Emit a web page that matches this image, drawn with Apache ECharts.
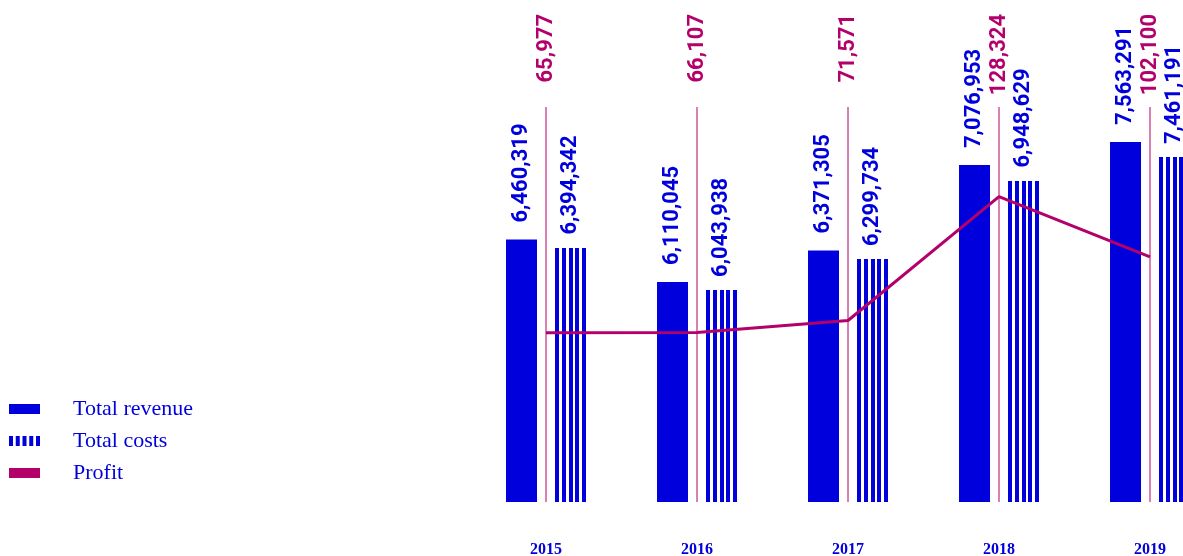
<!DOCTYPE html>
<html>
<head>
<meta charset="utf-8">
<script src="https://cdn.jsdelivr.net/npm/echarts@6/dist/echarts.min.js"></script>
<style>
  html, body { margin: 0; padding: 0; background: #ffffff; }
  #chart { width: 1183px; height: 556px; }
</style>
</head>
<body>
<div id="chart"></div>
<script>
// ---- data ----
const years = ['2015', '2016', '2017', '2018', '2019'];
// printed values
const totalRevenue = [6460319, 6110045, 6371305, 7076953, 7563291];
const totalCosts = [6394342, 6043938, 6299734, 6948629, 7461191];
const profit = [65977, 66107, 71571, 128324, 102100];
// bar heights as drawn in the reference (the 2019 bars are drawn shorter than their printed values)
const revenueBarHeights = [6460319, 6110045, 6371305, 7076953, 7267000];
const costBarHeights = [6394342, 6043938, 6299734, 6948629, 7143000];
// the profit line as drawn (2019 point sits slightly lower than its printed value)
const profitLine = [65977, 66107, 71571, 128324, 100700];

// ---- style ----
const BLUE = '#0000dc';
const MAGENTA = '#b3006b';
const Y_MIN = 4291800, Y_MAX = 7556300;
const P_MIN = -11640, P_MAX = 169440;
const valueFont = 'bold 22px Roboto';
const fmt = v => v.toLocaleString('en-US');

const chart = echarts.init(document.getElementById('chart'), null, { renderer: 'canvas' });

chart.setOption({
  animation: false,
  backgroundColor: '#ffffff',
  grid: { left: 470.5, width: 755, top: 107, bottom: 54, outerBoundsMode: 'none', containLabel: false },
  legend: {
    orient: 'vertical',
    left: 9,
    top: 398,
    padding: 0,
    itemWidth: 31,
    itemHeight: 10,
    itemGap: 10,
    selectedMode: false,
    textStyle: {
      color: BLUE,
      fontFamily: 'Liberation Serif',
      fontSize: 22,
      lineHeight: 22,
      padding: [0, 0, 0, 28]
    },
    data: [
      { name: 'Total revenue', icon: 'rect' },
      { name: 'Total costs', icon: 'path://M0,0h4v10h-4z M6.75,0h4v10h-4z M13.5,0h4v10h-4z M20.25,0h4v10h-4z M27,0h4v10h-4z' },
      { name: 'Profit', icon: 'rect' }
    ]
  },
  xAxis: {
    type: 'category',
    data: years,
    axisLine: { show: false },
    axisTick: { show: false },
    axisLabel: {
      color: BLUE,
      fontFamily: 'Liberation Serif',
      fontWeight: 'bold',
      fontSize: 16,
      margin: 40
    }
  },
  yAxis: [
    { type: 'value', min: Y_MIN, max: Y_MAX, show: false, splitLine: { show: false } },
    { type: 'value', min: P_MIN, max: P_MAX, show: false, splitLine: { show: false } }
  ],
  series: [
    {
      name: 'Profit guides',
      type: 'custom',
      yAxisIndex: 0,
      silent: true,
      z: 1,
      data: profit.map((v, i) => [i, v]),
      renderItem: function (params, api) {
        const i = api.value(0);
        const top = api.coord([i, Y_MAX]);
        const base = api.coord([i, Y_MIN]);
        return {
          type: 'group',
          children: [
            {
              type: 'line',
              shape: { x1: top[0], y1: top[1], x2: base[0], y2: base[1] },
              style: { stroke: MAGENTA, lineWidth: 1 }
            },
            {
              type: 'text',
              x: top[0],
              y: top[1] - 93,
              rotation: Math.PI / 2,
              style: {
                text: fmt(api.value(1)),
                font: valueFont,
                fill: MAGENTA,
                align: 'right',
                verticalAlign: 'middle'
              }
            }
          ]
        };
      }
    },
    {
      name: 'Total revenue',
      type: 'bar',
      barWidth: 31,
      barGap: '58%',
      z: 2,
      itemStyle: { color: BLUE },
      data: revenueBarHeights.map((v, i) => ({
        value: v,
        label: { formatter: fmt(totalRevenue[i]) }
      })),
      label: {
        show: true,
        position: 'top',
        rotate: 90,
        align: 'left',
        verticalAlign: 'middle',
        distance: 17,
        color: BLUE,
        fontFamily: 'Roboto',
        fontWeight: 'bold',
        fontSize: 22
      }
    },
    {
      name: 'Total costs placeholder',
      type: 'bar',
      barWidth: 31,
      barGap: '58%',
      silent: true,
      itemStyle: { color: 'rgba(0,0,0,0)' },
      data: costBarHeights
    },
    {
      name: 'Total costs',
      type: 'custom',
      yAxisIndex: 0,
      z: 2,
      itemStyle: { color: BLUE },
      data: costBarHeights.map((v, i) => [i, v, totalCosts[i]]),
      renderItem: function (params, api) {
        const i = api.value(0);
        const top = api.coord([i, api.value(1)]);
        const base = api.coord([i, Y_MIN]);
        const x0 = top[0] + 9;
        const children = [];
        for (let k = 0; k < 5; k++) {
          children.push({
            type: 'rect',
            shape: { x: Math.round(x0 + k * 6.75), y: Math.round(top[1]), width: 4, height: Math.round(base[1]) - Math.round(top[1]) },
            style: { fill: BLUE }
          });
        }
        children.push({
          type: 'text',
          x: x0 + 15.5,
          y: top[1] - 13,
          rotation: Math.PI / 2,
          style: {
            text: fmt(api.value(2)),
            font: valueFont,
            fill: BLUE,
            align: 'left',
            verticalAlign: 'middle'
          }
        });
        return { type: 'group', children: children };
      }
    },
    {
      name: 'Profit',
      type: 'line',
      yAxisIndex: 1,
      z: 5,
      symbol: 'none',
      itemStyle: { color: MAGENTA },
      lineStyle: { color: MAGENTA, width: 3 },
      data: profitLine
    }
  ]
});
</script>
</body>
</html>
